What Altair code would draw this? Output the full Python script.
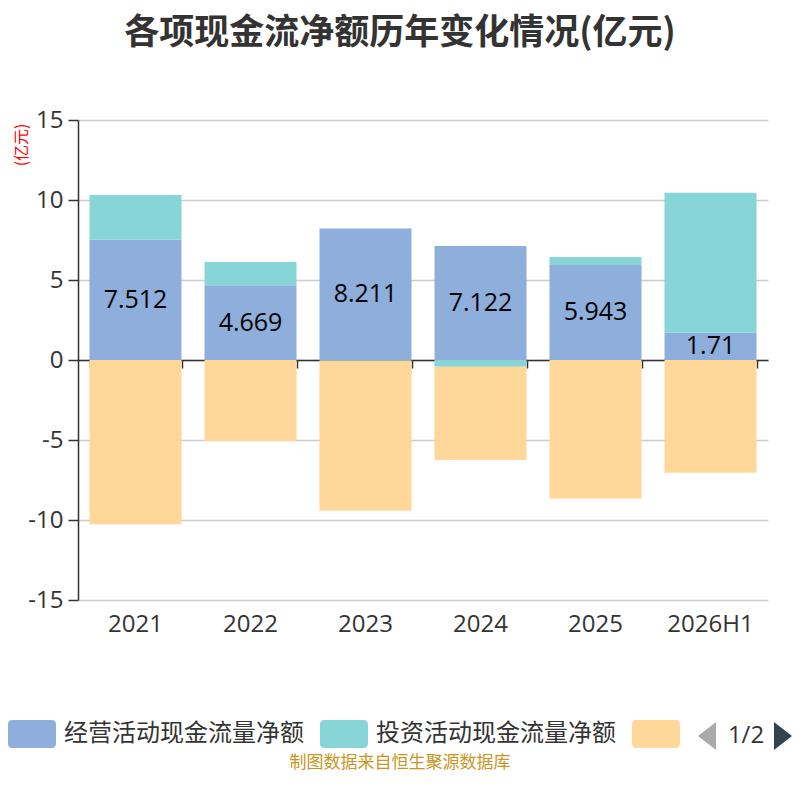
import altair as alt
import pandas as pd

years = ["2021", "2022", "2023", "2024", "2025", "2026H1"]
series_names = ["经营活动现金流量净额", "投资活动现金流量净额", "筹资活动现金流量净额"]
operating = [7.512, 4.669, 8.211, 7.122, 5.943, 1.71]
investing = [2.80, 1.46, -0.05, -0.42, 0.49, 8.75]
financing = [-10.27, -5.06, -9.37, -5.83, -8.65, -7.04]
op_labels = ["7.512", "4.669", "8.211", "7.122", "5.943", "1.71"]
colors = ["#8EAEDB", "#88D5D8", "#FFD899"]

rows = []
for i, y in enumerate(years):
    for k, vals in enumerate([operating, investing, financing]):
        rows.append({"year": y, "series": series_names[k], "value": vals[i], "ord": k})
df = pd.DataFrame(rows)
lab_df = pd.DataFrame({"year": years, "half": [v / 2 for v in operating], "label": op_labels})

CJK = "Noto Sans CJK SC"
NUM = "Open Sans"

xscale = alt.Scale(domain=years, paddingInner=0.2, paddingOuter=0.1)
yscale = alt.Scale(domain=[-15, 15], nice=False)

sym_path = ("M-0.714,-1H2.143A0.286,0.286 0 0 1 2.428,-0.714V0.714"
            "A0.286,0.286 0 0 1 2.143,1H-0.714A0.286,0.286 0 0 1 -1,0.714"
            "V-0.714A0.286,0.286 0 0 1 -0.714,-1Z")

bars = alt.Chart(df).mark_bar().encode(
    x=alt.X("year:N", scale=xscale, sort=years, title=None,
            axis=alt.Axis(orient="bottom", domain=False, ticks=False, labelAngle=0,
                          labelFont=NUM, labelFontSize=24, labelColor="#333",
                          labelPadding=12, grid=False)),
    y=alt.Y("value:Q", scale=yscale, stack="zero", title="(亿元)",
            axis=alt.Axis(values=[-15, -10, -5, 0, 5, 10, 15], labelExpr="'' + datum.value",
                          labelFont=NUM, labelFontSize=24, labelColor="#333", labelPadding=5,
                          tickSize=10, tickColor="#333", tickWidth=1.5,
                          domainColor="#333", domainWidth=1.5,
                          grid=True, gridColor="#cccccc", gridWidth=1.5,
                          titleColor="red", titleFont=CJK, titleFontSize=16,
                          titleFontWeight="normal", titleAngle=-90,
                          titleX=-57, titleY=3, titleAlign="right", titleBaseline="middle")),
    color=alt.Color("series:N", scale=alt.Scale(domain=series_names, range=colors),
                    legend=alt.Legend(orient="none", legendX=-70, legendY=600,
                                      direction="horizontal", title=None,
                                      symbolType=sym_path, symbolSize=784,
                                      symbolStrokeWidth=0, symbolOpacity=1,
                                      labelFont=CJK, labelFontSize=24, labelColor="#333",
                                      labelOffset=28, columnPadding=16,
                                      labelLimit=400,
                                      labelExpr="datum.label == '筹资活动现金流量净额' ? '' : datum.label")),
    order=alt.Order("ord:Q"),
)

labels = alt.Chart(lab_df).mark_text(font=NUM, fontSize=25, color="#000").encode(
    x=alt.X("year:N", scale=xscale, sort=years, title=None,
            axis=alt.Axis(orient="bottom", offset=-240, labels=False, ticks=True,
                          tickBand="extent", tickSize=8, tickColor="#333", tickWidth=1.5,
                          domain=True, domainColor="#333", domainWidth=1.5, grid=False)),
    y=alt.Y("half:Q", scale=yscale),
    text="label:N",
)

tri_left = "M1,-1.556L-1,0L1,1.556Z"
tri_right = "M-1,-1.556L1,0L-1,1.556Z"

one = pd.DataFrame({"t": ["1/2"]})
pager_text = alt.Chart(one).mark_text(font=NUM, fontSize=24, color="#333").encode(
    x=alt.value(668), y=alt.value(616), text="t:N")
left_tri = alt.Chart(one).mark_point(shape=tri_left, filled=True, color="#aaaaaa",
                                     opacity=1, size=324).encode(
    x=alt.value(629), y=alt.value(616))
right_tri = alt.Chart(one).mark_point(shape=tri_right, filled=True, color="#2f4554",
                                      opacity=1, size=324).encode(
    x=alt.value(705), y=alt.value(616))
footer = alt.Chart(pd.DataFrame({"t": ["制图数据来自恒生聚源数据库"]})).mark_text(
    font=CJK, fontSize=17, color="#C8961E").encode(
    x=alt.value(322), y=alt.value(643), text="t:N")

chart = alt.layer(bars, labels, pager_text, left_tri, right_tri, footer).resolve_axis(
    x="independent"
).properties(
    width=690, height=480,
    title=alt.TitleParams("各项现金流净额历年变化情况(亿元)", font=CJK, fontSize=35,
                          fontWeight="bold", color="#333", anchor="middle", dx=-23, offset=57),
    autosize=alt.AutoSizeParams(type="none"),
    padding={"left": 70, "top": 112, "right": 24, "bottom": 190},
).configure_view(stroke=None)

chart.save("out.html", embed_options={"renderer": "svg", "actions": False})
